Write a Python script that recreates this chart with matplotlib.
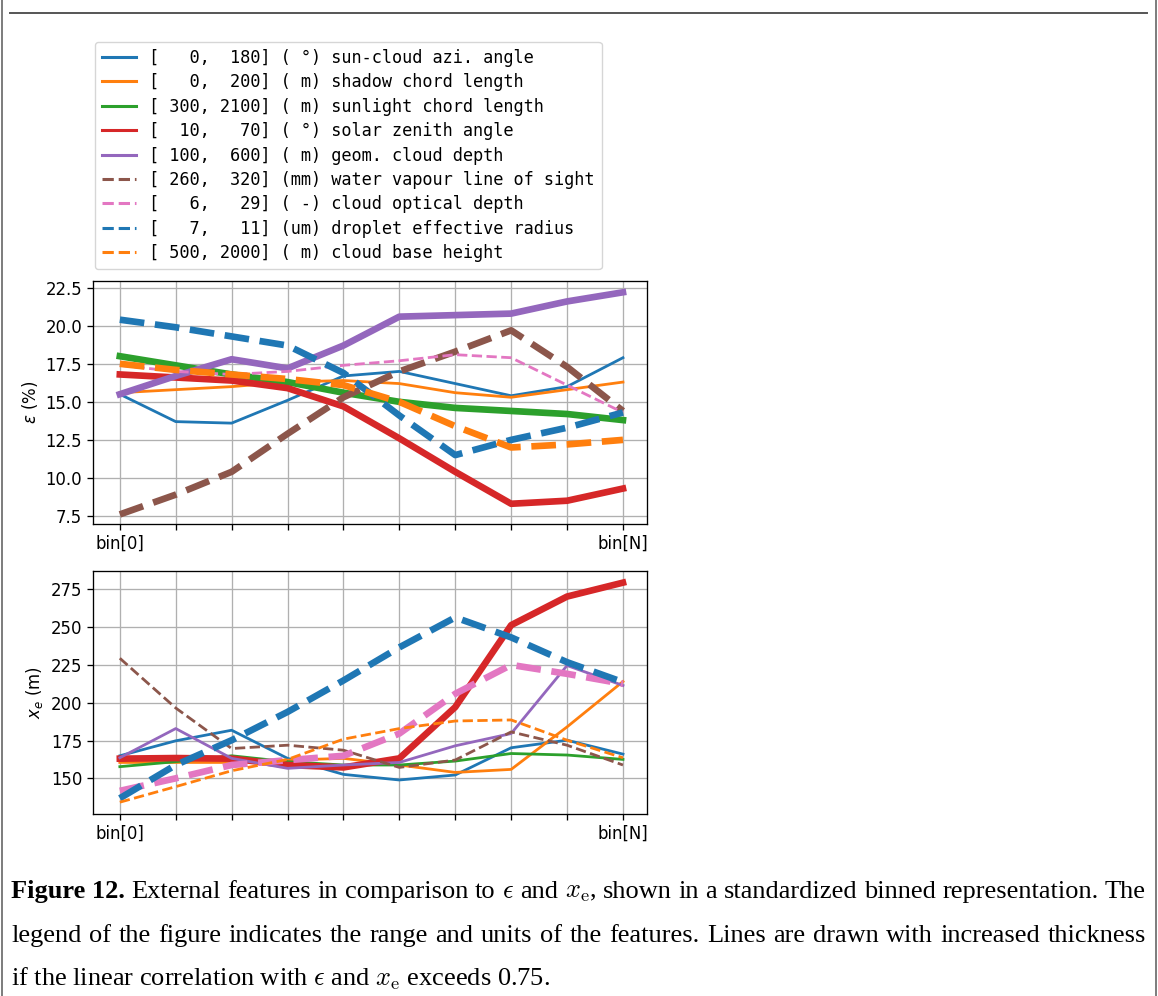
import numpy as np
import matplotlib
matplotlib.use('Agg')
import matplotlib.pyplot as plt
from matplotlib.lines import Line2D

# feature descriptions (legend)
ranges = [(0, 180), (0, 200), (300, 2100), (10, 70), (100, 600),
          (260, 320), (6, 29), (7, 11), (500, 2000)]
units = ['°', 'm', 'm', '°', 'm', 'mm', '-', 'um', 'm']
names = ['sun-cloud azi. angle', 'shadow chord length', 'sunlight chord length',
         'solar zenith angle', 'geom. cloud depth', 'water vapour line of sight',
         'cloud optical depth', 'droplet effective radius', 'cloud base height']
colors = ['C0', 'C1', 'C2', 'C3', 'C4', 'C5', 'C6', 'C0', 'C1']
styles = ['-', '-', '-', '-', '-', '--', '--', '--', '--']

bins = np.arange(10)
xtick_labels = ['bin[0]', '', '', '', '', '', '', '', '', 'bin[N]']

# epsilon (%) per bin for each feature
eps = [
    [15.5, 13.7, 13.6, 15.1, 16.7, 17.0, 16.2, 15.4, 16.0, 17.9],
    [15.6, 15.8, 16.0, 16.3, 16.4, 16.2, 15.6, 15.3, 15.8, 16.3],
    [18.0, 17.4, 16.8, 16.3, 15.6, 15.0, 14.6, 14.4, 14.2, 13.8],
    [16.8, 16.6, 16.4, 15.9, 14.7, 12.6, 10.4, 8.3, 8.5, 9.3],
    [15.5, 16.7, 17.8, 17.2, 18.7, 20.6, 20.7, 20.8, 21.6, 22.2],
    [7.6, 8.9, 10.4, 12.9, 15.3, 17.0, 18.3, 19.7, 17.3, 14.4],
    [17.4, 17.0, 16.8, 17.0, 17.4, 17.7, 18.1, 17.9, 16.1, 14.3],
    [20.4, 19.9, 19.3, 18.7, 16.9, 14.1, 11.5, 12.5, 13.3, 14.3],
    [17.5, 17.1, 16.8, 16.5, 16.1, 15.0, 13.4, 12.0, 12.2, 12.5],
]
eps_thick = [False, False, True, True, True, True, False, True, True]

# x_e (m) per bin for each feature
xe = [
    [164.9, 174.8, 181.8, 163.2, 152.6, 148.9, 152.2, 170.2, 175.2, 166.0],
    [160.5, 160.5, 160.5, 162.0, 163.2, 158.8, 153.9, 155.9, 184.0, 214.0],
    [157.7, 161.0, 164.9, 161.0, 158.8, 158.8, 161.4, 166.4, 165.4, 162.5],
    [163.0, 163.4, 163.0, 158.8, 157.2, 163.2, 197.1, 251.3, 270.2, 279.4],
    [163.6, 182.9, 163.2, 156.6, 158.8, 160.5, 171.5, 179.6, 224.6, 211.4],
    [229.4, 196.5, 169.7, 171.9, 168.6, 157.2, 162.1, 180.7, 171.9, 158.8],
    [141.7, 150.0, 158.8, 162.0, 164.9, 179.6, 205.9, 225.0, 219.1, 212.5],
    [136.8, 158.8, 175.2, 193.9, 214.7, 236.6, 256.4, 243.2, 226.8, 213.6],
    [134.2, 144.5, 155.0, 162.5, 175.9, 182.9, 187.9, 188.6, 175.2, 163.6],
]
xe_thick = [False, False, False, True, False, False, True, True, False]

caption_lines = [
    [('Figure 12.', 'bold'), 'External', 'features', 'in', 'comparison', 'to', r'$\epsilon$',
     'and', r'$x_\mathrm{e}$,', 'shown', 'in', 'a', 'standardized', 'binned',
     'representation.', 'The'],
    ['legend', 'of', 'the', 'figure', 'indicates', 'the', 'range', 'and', 'units', 'of',
     'the', 'features.', 'Lines', 'are', 'drawn', 'with', 'increased', 'thickness'],
]
caption_last = r'if the linear correlation with $\epsilon$ and $x_\mathrm{e}$ exceeds 0.75.'

W, H = 1158, 996
fig = plt.figure(figsize=(W / 100, H / 100), dpi=100)

thin, thick = 2.0, 4.8
tick_fs = 11.9


def setup(ax, ylim, ylabel):
    ax.set_xlim(-0.48, 9.43)
    ax.set_ylim(*ylim)
    ax.set_xticks(bins)
    ax.set_xticklabels(xtick_labels)
    ax.grid(True, color='#b0b0b0', lw=0.95)
    ax.set_axisbelow(True)
    ax.tick_params(labelsize=tick_fs, length=4.2, width=0.95)
    for s in ax.spines.values():
        s.set_linewidth(0.95)
    ax.set_ylabel(ylabel, fontsize=tick_fs)


ax1 = fig.add_axes([93 / W, 1 - 524 / H, 554 / W, 242.5 / H])
for vals, c, ls, tk in zip(eps, colors, styles, eps_thick):
    ax1.plot(bins, vals, color=c, ls=ls, lw=thick if tk else thin)
setup(ax1, (6.97, 22.91), r'$\varepsilon$ (%)')
ax1.set_yticks([7.5, 10.0, 12.5, 15.0, 17.5, 20.0, 22.5])

ax2 = fig.add_axes([93 / W, 1 - 814 / H, 554 / W, 243 / H])
for vals, c, ls, tk in zip(xe, colors, styles, xe_thick):
    ax2.plot(bins, vals, color=c, ls=ls, lw=thick if tk else thin)
setup(ax2, (126.4, 287.1), r'$x_e$ (m)')
ax2.set_yticks([150, 175, 200, 225, 250, 275])

labels = ['[{:4d},{:5d}] ({:>2s}) {}'.format(r[0], r[1], u, n)
          for r, u, n in zip(ranges, units, names)]
handles = [Line2D([], [], color=c, ls=ls, lw=2.2) for c, ls in zip(colors, styles)]
fig.legend(handles, labels, loc='upper left', bbox_to_anchor=(95 / W, 1 - 42 / H),
           borderaxespad=0, prop={'family': 'DejaVu Sans Mono', 'size': 12.2},
           labelspacing=0.38, handlelength=2.0, handletextpad=0.8, borderpad=0.4)

# page decorations
fig.add_artist(Line2D([10 / W, 1147 / W], [1 - 13 / H] * 2, color='#555555', lw=1.4,
                      transform=fig.transFigure))
fig.add_artist(Line2D([1.5 / W] * 2, [0, 1], color='#666666', lw=1.2, transform=fig.transFigure))
fig.add_artist(Line2D([1155.5 / W] * 2, [0, 1], color='#666666', lw=1.2, transform=fig.transFigure))

# caption, justified
cap_fs = 19
cap_kw = dict(family='Liberation Serif', fontsize=cap_fs, va='baseline', math_fontfamily='cm')
x_left, x_right = 11, 1146
baselines = [898, 942, 986]
renderer = fig.canvas.get_renderer()
for words, yb in zip(caption_lines, baselines):
    texts = []
    for w in words:
        if isinstance(w, tuple):
            t = fig.text(0, 1 - yb / H, w[0], fontweight=w[1], **cap_kw)
        else:
            t = fig.text(0, 1 - yb / H, w, **cap_kw)
        texts.append(t)
    widths = [t.get_window_extent(renderer).width for t in texts]
    gap = (x_right - x_left - sum(widths)) / (len(texts) - 1)
    x = x_left
    for t, w in zip(texts, widths):
        t.set_x(x / W)
        x += w + gap
fig.text(x_left / W, 1 - baselines[2] / H, caption_last, **cap_kw)

fig.savefig('out.png', dpi=100)
